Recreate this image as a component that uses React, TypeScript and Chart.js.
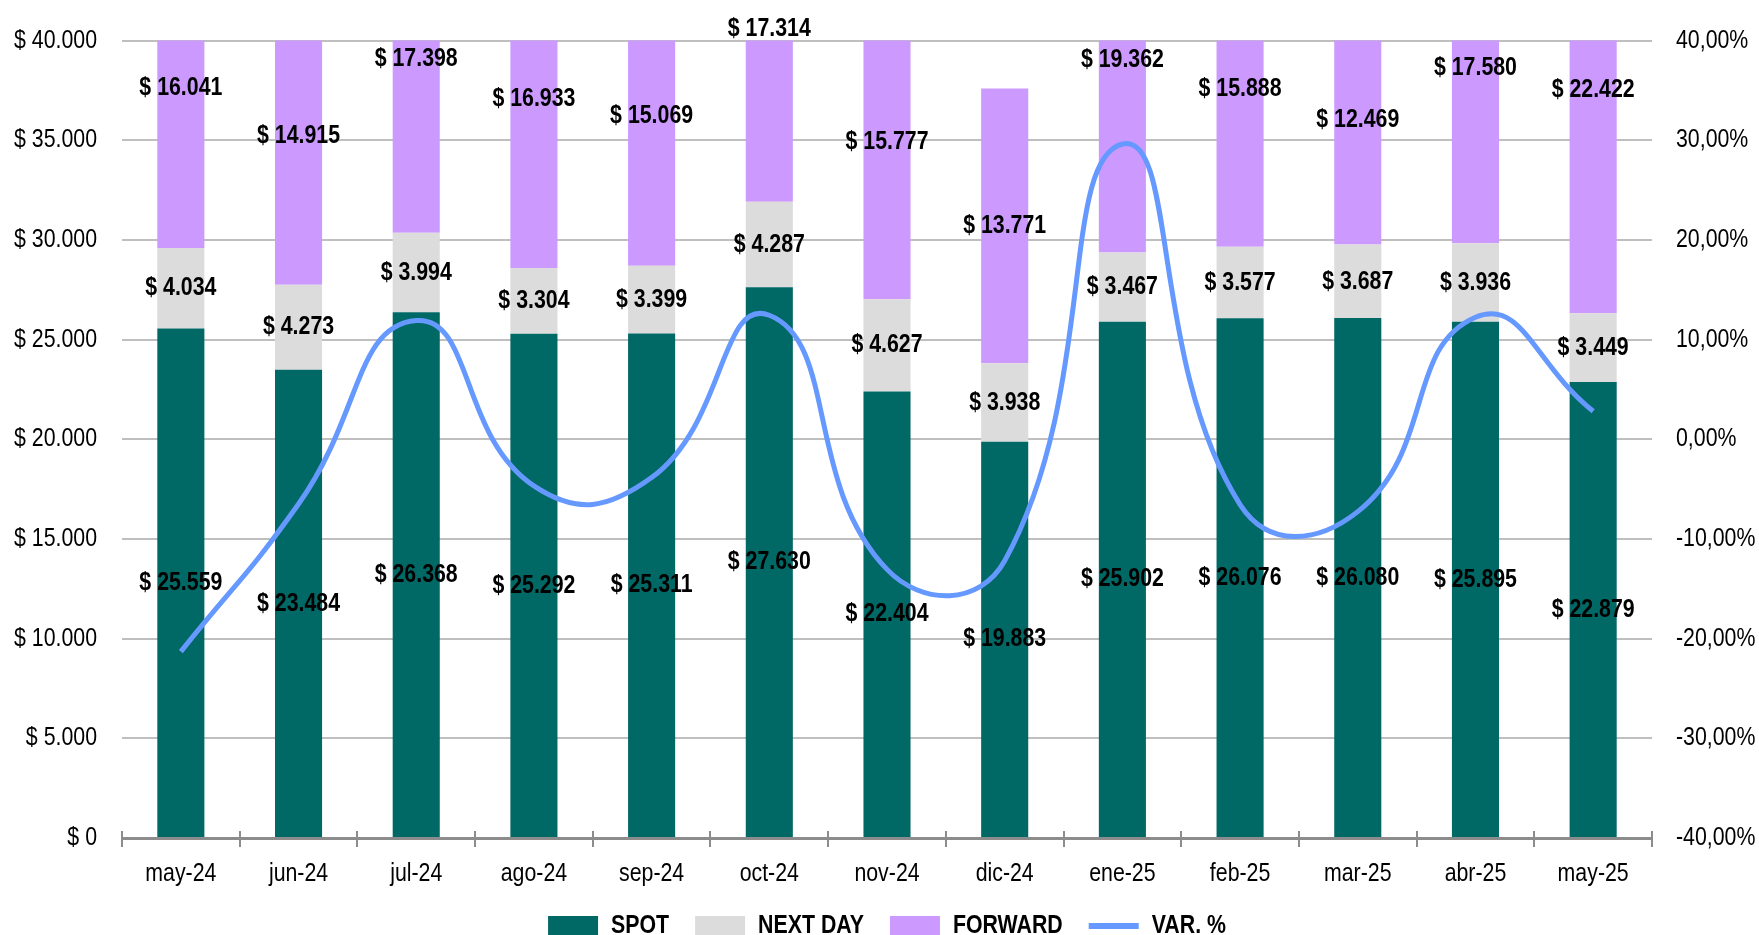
import React, { useEffect, useRef } from 'react';
import { Chart, registerables } from 'chart.js';

Chart.register(...registerables);

const categories = ['may-24', 'jun-24', 'jul-24', 'ago-24', 'sep-24', 'oct-24', 'nov-24', 'dic-24', 'ene-25', 'feb-25', 'mar-25', 'abr-25', 'may-25'];
const spot = [25559, 23484, 26368, 25292, 25311, 27630, 22404, 19883, 25902, 26076, 26080, 25895, 22879];
const nextDay = [4034, 4273, 3994, 3304, 3399, 4287, 4627, 3938, 3467, 3577, 3687, 3936, 3449];
const forward = [16041, 14915, 17398, 16933, 15069, 17314, 15777, 13771, 19362, 15888, 12469, 17580, 22422];
const varPct = [-21.3, -6.49, 11.92, -4.67, -3.84, 12.45, -13.05, -12.18, 29.63, -6.55, -7.26, 12.25, 2.82];

const seriesNames = ['SPOT', 'NEXT DAY', 'FORWARD', 'VAR. %'];
const seriesColors = ['#006865', '#dcdcdc', '#cc99ff', '#6699ff'];

const FONT = "'Liberation Sans', Arial, sans-serif";
const NARROW = 0.82; // horizontal squeeze to imitate a narrow face

const fmtThousands = (v: number) => String(Math.round(v)).replace(/\B(?=(\d{3})+(?!\d))/g, '.');
const fmtPct = (v: number) => v.toFixed(2).replace('.', ',') + '%';

function condenseText(ctx: any, k: number) {
  const origFill = ctx.fillText.bind(ctx);
  const origMeasure = ctx.measureText.bind(ctx);
  ctx.fillText = (text: string, x: number, y: number, maxWidth?: number) => {
    ctx.save();
    ctx.translate(x, y);
    ctx.scale(k, 1);
    if (maxWidth !== undefined && maxWidth !== null) origFill(text, 0, 0, maxWidth / k);
    else origFill(text, 0, 0);
    ctx.restore();
  };
  ctx.measureText = (text: string) => {
    const m = origMeasure(text);
    return {
      width: m.width * k,
      actualBoundingBoxAscent: m.actualBoundingBoxAscent,
      actualBoundingBoxDescent: m.actualBoundingBoxDescent,
      actualBoundingBoxLeft: m.actualBoundingBoxLeft * k,
      actualBoundingBoxRight: m.actualBoundingBoxRight * k,
      fontBoundingBoxAscent: m.fontBoundingBoxAscent,
      fontBoundingBoxDescent: m.fontBoundingBoxDescent,
    };
  };
}

const barLabels = {
  id: 'barLabels',
  afterDatasetsDraw(chart: any) {
    const ctx = chart.ctx;
    ctx.save();
    ctx.font = `bold 26px ${FONT}`;
    ctx.fillStyle = '#000000';
    ctx.textAlign = 'center';
    ctx.textBaseline = 'middle';
    chart.data.datasets.forEach((ds: any, di: number) => {
      if (ds.type === 'line') return;
      const meta = chart.getDatasetMeta(di);
      meta.data.forEach((el: any, i: number) => {
        const p = el.getProps(['x', 'y', 'base'], true);
        ctx.fillText('$ ' + fmtThousands(ds.data[i]), p.x, (p.y + p.base) / 2);
      });
    });
    ctx.restore();
  },
};

const axisTicks = {
  id: 'axisTicks',
  afterDraw(chart: any) {
    const ctx = chart.ctx;
    const xs = chart.scales.x;
    const bottom = chart.chartArea.bottom;
    ctx.save();
    ctx.strokeStyle = '#8c8c8c';
    ctx.lineWidth = 2;
    for (let i = 0; i <= categories.length; i++) {
      const px = Math.round(xs.getPixelForValue(i - 0.5));
      ctx.beginPath();
      ctx.moveTo(px, bottom - 7);
      ctx.lineTo(px, bottom + 9);
      ctx.stroke();
    }
    ctx.restore();
  },
};

export default function App() {
  const ref = useRef<HTMLCanvasElement | null>(null);

  useEffect(() => {
    if (!ref.current) return;
    const c2d = ref.current.getContext('2d');
    condenseText(c2d, NARROW);
    const chart = new Chart(ref.current, {
      type: 'bar',
      data: {
        labels: categories,
        datasets: [
          { type: 'bar', label: seriesNames[0], data: spot, backgroundColor: seriesColors[0], yAxisID: 'y', barPercentage: 0.4, categoryPercentage: 1, order: 1 },
          { type: 'bar', label: seriesNames[1], data: nextDay, backgroundColor: seriesColors[1], yAxisID: 'y', barPercentage: 0.4, categoryPercentage: 1, order: 1 },
          { type: 'bar', label: seriesNames[2], data: forward, backgroundColor: seriesColors[2], yAxisID: 'y', barPercentage: 0.4, categoryPercentage: 1, order: 1 },
          { type: 'line', label: seriesNames[3], data: varPct, borderColor: seriesColors[3], backgroundColor: seriesColors[3], borderWidth: 5, pointRadius: 0, tension: 0.5, yAxisID: 'y1', order: 0 },
        ] as any,
      },
      options: {
        animation: false,
        responsive: true,
        maintainAspectRatio: false,
        layout: { padding: { top: 36, left: 0, right: 0, bottom: 0 } },
        plugins: {
          tooltip: { enabled: false },
          legend: {
            position: 'bottom',
            fullSize: false,
            labels: {
              usePointStyle: true,
              pointStyleWidth: 50,
              boxHeight: 20,
              padding: 26,
              color: '#000000',
              font: { family: FONT, size: 26, weight: 'bold' },
              sort: (a: any, b: any) => a.datasetIndex - b.datasetIndex,
              generateLabels: (chart: any) => {
                const items = Chart.defaults.plugins.legend.labels.generateLabels(chart);
                return items.map((it: any) => {
                  if (it.datasetIndex === 3) {
                    return { ...it, pointStyle: 'line', lineWidth: 6, strokeStyle: seriesColors[3], fillStyle: seriesColors[3] };
                  }
                  return { ...it, pointStyle: 'rect', lineWidth: 0, fillStyle: seriesColors[it.datasetIndex] };
                });
              },
            },
          },
        },
        scales: {
          x: {
            stacked: true,
            grid: { display: true, drawOnChartArea: false, drawTicks: false },
            border: { display: true, color: '#8c8c8c', width: 3 },
            ticks: { color: '#000000', padding: 20, font: { family: FONT, size: 26 }, maxRotation: 0, autoSkip: false },
            afterFit: (s: any) => { s.height = 49; },
          },
          y: {
            stacked: true,
            position: 'left',
            min: 0,
            max: 40000,
            ticks: { stepSize: 5000, color: '#000000', padding: 25, font: { family: FONT, size: 26 }, callback: (v: any) => '$ ' + fmtThousands(Number(v)) },
            grid: { color: '#bfbfbf', lineWidth: 2, drawTicks: false },
            border: { display: false },
            afterFit: (s: any) => { s.width = 122; },
          },
          y1: {
            position: 'right',
            min: -40,
            max: 40,
            ticks: { stepSize: 10, color: '#000000', padding: 24, font: { family: FONT, size: 26 }, callback: (v: any) => fmtPct(Number(v)) },
            grid: { display: false, drawTicks: false },
            border: { display: false },
            afterFit: (s: any) => { s.width = 107; },
          },
        },
      } as any,
      plugins: [barLabels, axisTicks],
    });
    return () => chart.destroy();
  }, []);

  return (
    <div style={{ position: 'fixed', left: 0, top: 0, width: 1759, height: 949, background: '#ffffff' }}>
      <canvas ref={ref} />
    </div>
  );
}
